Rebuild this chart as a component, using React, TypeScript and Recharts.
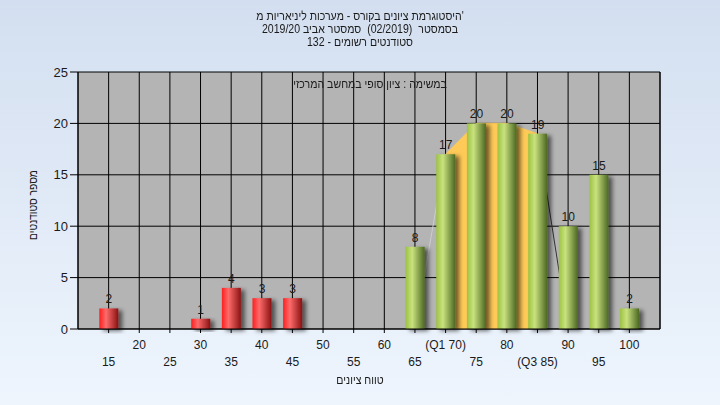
import React from 'react';
import {
  ComposedChart,
  Bar,
  Area,
  XAxis,
  YAxis,
  CartesianGrid,
  LabelList,
} from 'recharts';

// grade buckets and how many students fell into each
const grades = [15, 20, 25, 30, 35, 40, 45, 50, 55, 60, 65, 70, 75, 80, 85, 90, 95, 100];
const counts = [2, 0, 0, 1, 4, 3, 3, 0, 0, 0, 8, 17, 20, 20, 19, 10, 15, 2];
const xTickLabels = [
  '15', '20', '25', '30', '35', '40', '45', '50', '55', '60',
  '65', '(Q1 70)', '75', '80', '(Q3 85)', '90', '95', '100',
];
const yTicks = [0, 5, 10, 15, 20, 25];
const quartiles = [70, 85];
const passGrade = 55;

const titleLines = [
  "'היסטוגרמת ציונים בקורס - מערכות ליניאריות מ",
  'בסמסטר  (02/2019)  סמסטר אביב 2019/20',
  'סטודנטים רשומים - 132',
];
const noteText = 'במשימה : ציון סופי במחשב המרכזי';
const xTitle = 'טווח ציונים';
const yTitle = 'מספר סטודנטים';

const FONT = '"Liberation Sans", Arial, "DejaVu Sans", sans-serif';

const [q1, q3] = quartiles;
const data = grades.map((g, i) => ({
  grade: g,
  count: counts[i],
  // the quartile band: follows the counts between Q1 and Q3, drops to 0 one bucket outside
  band: g >= q1 && g <= q3 ? counts[i] : g === q1 - 5 || g === q3 + 5 ? 0 : null,
}));

const CylBar = (props: any) => {
  const { x, y, width, height, payload } = props;
  if (!height || height <= 0) return null;
  const fill = payload.grade < passGrade ? 'url(#redBar)' : 'url(#greenBar)';
  return <rect x={x} y={y} width={width} height={height} fill={fill} filter="url(#barShadow)" />;
};

const XTick = (props: any) => {
  const { x, y, payload } = props;
  const idx = grades.indexOf(payload.value);
  const lower = payload.value % 10 === 5;
  return (
    <text
      x={x}
      y={y + (lower ? 31 : 14)}
      textAnchor="middle"
      fontSize={12}
      fontFamily={FONT}
      fill="#1a1a1a"
    >
      {xTickLabels[idx]}
    </text>
  );
};

const ValueLabel = (props: any) => {
  const { x, y, width, value } = props;
  if (!value) return null;
  return (
    <text
      x={x + width / 2}
      y={y - 5}
      textAnchor="middle"
      fontSize={12}
      fontFamily={FONT}
      fill="#1a1a1a"
    >
      {value}
    </text>
  );
};

const axisTick = { fontSize: 13, fill: '#1a1a1a', fontFamily: FONT };

// hebrew captions in the original are set in a narrower face
const narrow = 'scaleX(0.88)';

export default function App() {
  return (
    <div
      style={{
        position: 'absolute',
        left: 0,
        top: 0,
        width: 720,
        height: 405,
        background: 'linear-gradient(to bottom, #d3dff0, #eef5fd)',
        fontFamily: FONT,
        color: '#1a1a1a',
      }}
    >
      <div
        style={{
          position: 'absolute',
          top: 10,
          left: 0,
          width: 720,
          textAlign: 'center',
          fontSize: 12,
          lineHeight: '13px',
          direction: 'rtl',
          whiteSpace: 'pre',
          transform: narrow,
        }}
      >
        {titleLines.map((t) => (
          <div key={t}>{t}</div>
        ))}
      </div>

      <ComposedChart
        width={720}
        height={405}
        data={data}
        margin={{ top: 72, right: 0, bottom: 0, left: 0 }}
      >
        <defs>
          <linearGradient id="redBar" x1="0" y1="0" x2="1" y2="0">
            <stop offset="0%" stopColor="#ff1e1e" />
            <stop offset="35%" stopColor="#ff6b6b" />
            <stop offset="100%" stopColor="#8a1212" />
          </linearGradient>
          <linearGradient id="greenBar" x1="0" y1="0" x2="1" y2="0">
            <stop offset="0%" stopColor="#9cc242" />
            <stop offset="35%" stopColor="#c9e27e" />
            <stop offset="100%" stopColor="#4c6822" />
          </linearGradient>
          <linearGradient id="bandFill" x1="0" y1="0" x2="1" y2="0">
            <stop offset="0%" stopColor="#b4b4b4" stopOpacity={0} />
            <stop offset="20%" stopColor="#b4b4b4" stopOpacity={0} />
            <stop offset="20%" stopColor="#ffca57" />
            <stop offset="80%" stopColor="#ffca57" />
            <stop offset="80%" stopColor="#b4b4b4" stopOpacity={0} />
            <stop offset="100%" stopColor="#b4b4b4" stopOpacity={0} />
          </linearGradient>
          <linearGradient id="bandStroke" x1="0" y1="0" x2="1" y2="0">
            <stop offset="0%" stopColor="#cccccc" />
            <stop offset="20%" stopColor="#cccccc" />
            <stop offset="20%" stopColor="#ffca57" />
            <stop offset="80%" stopColor="#ffca57" />
            <stop offset="80%" stopColor="#333333" />
            <stop offset="100%" stopColor="#333333" />
          </linearGradient>
          <filter id="barShadow" x="-20%" y="-10%" width="190%" height="130%">
            <feDropShadow dx="4" dy="2" stdDeviation="2" floodColor="#000" floodOpacity="0.55" />
          </filter>
        </defs>
        <CartesianGrid fill="#b4b4b4" stroke="#000" strokeOpacity={1} />
        <XAxis
          dataKey="grade"
          type="number"
          domain={[10, 105]}
          ticks={grades}
          interval={0}
          height={76}
          tickSize={4}
          tick={<XTick />}
          axisLine={{ stroke: '#000' }}
          tickLine={{ stroke: '#000' }}
        />
        <YAxis
          domain={[0, 25]}
          ticks={yTicks}
          width={78}
          tickSize={8}
          tickMargin={2}
          tick={axisTick}
          axisLine={{ stroke: '#000' }}
          tickLine={{ stroke: '#000' }}
        />
        <YAxis
          yAxisId="right"
          orientation="right"
          domain={[0, 25]}
          ticks={yTicks}
          width={60}
          tickSize={8}
          tickMargin={2}
          tick={axisTick}
          axisLine={{ stroke: '#000' }}
          tickLine={{ stroke: '#000' }}
        />
        <Area
          type="linear"
          dataKey="band"
          fill="url(#bandFill)"
          fillOpacity={1}
          stroke="url(#bandStroke)"
          strokeWidth={1}
          dot={false}
          activeDot={false}
          isAnimationActive={false}
        />
        <Bar dataKey="count" barSize={19} shape={<CylBar />} isAnimationActive={false}>
          <LabelList dataKey="count" content={<ValueLabel />} />
        </Bar>
      </ComposedChart>

      <div
        style={{
          position: 'absolute',
          top: 77,
          left: 260,
          width: 220,
          textAlign: 'center',
          fontSize: 12,
          direction: 'rtl',
          transform: narrow,
        }}
      >
        {noteText}
      </div>
      <div
        style={{
          position: 'absolute',
          top: 373,
          left: 0,
          width: 720,
          textAlign: 'center',
          fontSize: 12,
          direction: 'rtl',
          transform: narrow,
        }}
      >
        {xTitle}
      </div>
      <div
        style={{
          position: 'absolute',
          left: 33,
          top: 205,
          transform: 'translate(-50%, -50%) rotate(-90deg) scaleX(0.85)',
          whiteSpace: 'nowrap',
          fontSize: 12,
          direction: 'rtl',
        }}
      >
        {yTitle}
      </div>
    </div>
  );
}
